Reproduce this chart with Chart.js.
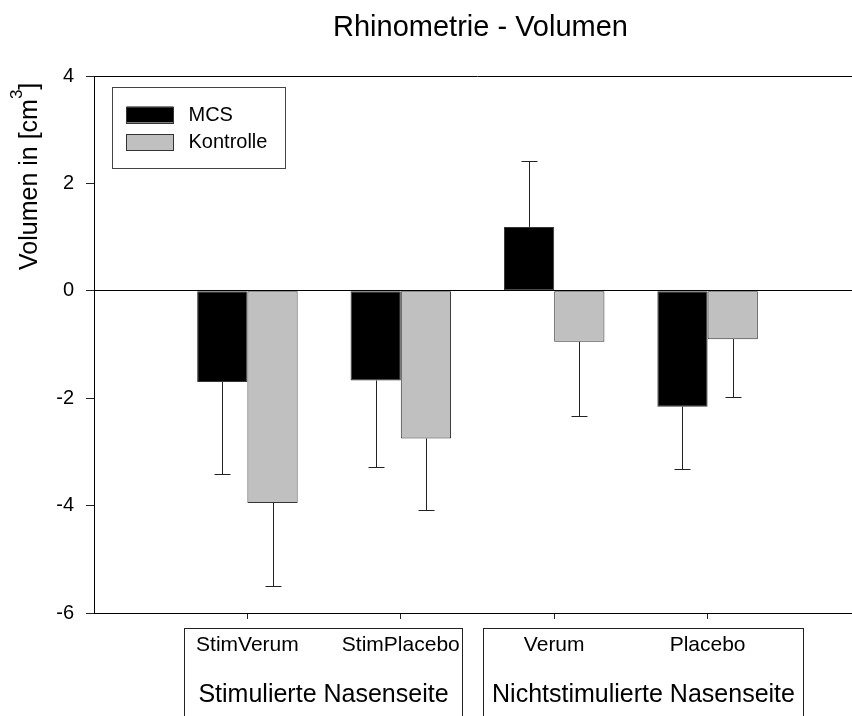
<!DOCTYPE html>
<html>
<head>
<meta charset="utf-8">
<title>Rhinometrie - Volumen</title>
<script src="https://cdn.jsdelivr.net/npm/chart.js@4.4.1/dist/chart.umd.min.js"></script>
<style>
  html, body { margin: 0; padding: 0; overflow: hidden; background: #fff; }
  #wrap { width: 880px; height: 716px; }
</style>
</head>
<body>
<div id="wrap"><canvas id="c" width="880" height="716"></canvas></div>
<script>
// Measurement groups and their labels
const categories = ['StimVerum', 'StimPlacebo', 'Verum', 'Placebo'];
const groupLabels = ['Stimulierte Nasenseite', 'Nichtstimulierte Nasenseite'];
const seriesNames = ['MCS', 'Kontrolle'];

// Mean change of nasal volume [cm³] and standard deviation
const mcsMeans = [-1.70, -1.67, 1.19, -2.16];
const mcsSD = [1.71, 1.62, 1.23, 1.16];
const kontrolleMeans = [-3.95, -2.75, -0.95, -0.90];
const kontrolleSD = [1.55, 1.33, 1.38, 1.08];

// Value axis ticks
const yTicks = [-6, -4, -2, 0, 2, 4];

const FONT = "'Liberation Sans', Arial, Helvetica, sans-serif";

// The x axis runs from 0 to 5, with the four categories sitting at 1..4
const pad = arr => [null, ...arr, null];
const axisLabels = ['', ...categories, ''];

// Top frame line of the plot
const framePlugin = {
  id: 'frame',
  afterDraw(chart) {
    const { ctx, chartArea: a } = chart;
    ctx.save();
    ctx.strokeStyle = '#000';
    ctx.lineWidth = 1;
    ctx.beginPath();
    ctx.moveTo(a.left, Math.round(a.top) + 0.5);
    ctx.lineTo(a.right, Math.round(a.top) + 0.5);
    ctx.stroke();
    ctx.restore();
  }
};

// One-sided error bars pointing away from zero
const errorBarPlugin = {
  id: 'errorBars',
  afterDatasetsDraw(chart) {
    const { ctx } = chart;
    const yScale = chart.scales.y;
    ctx.save();
    ctx.strokeStyle = '#222';
    ctx.lineWidth = 1;
    chart.data.datasets.forEach((ds, di) => {
      const meta = chart.getDatasetMeta(di);
      meta.data.forEach((bar, i) => {
        const v = ds.data[i];
        const e = ds.errors[i];
        if (v === null || e === null) return;
        const dir = v >= 0 ? 1 : -1;
        const x = Math.round(bar.x) + 0.5;
        const y1 = yScale.getPixelForValue(v);
        const y2 = Math.round(yScale.getPixelForValue(v + dir * e)) + 0.5;
        ctx.beginPath();
        ctx.moveTo(x, y1);
        ctx.lineTo(x, y2);
        ctx.moveTo(x - 8, y2);
        ctx.lineTo(x + 8, y2);
        ctx.stroke();
      });
    });
    ctx.restore();
  }
};

// Framed legend inside the plot area
const boxLegendPlugin = {
  id: 'boxLegend',
  afterDraw(chart) {
    const { ctx, chartArea: a } = chart;
    const left = Math.round(a.left + 18) + 0.5;
    const top = Math.round(a.top + 11) + 0.5;
    ctx.save();
    ctx.strokeStyle = '#444';
    ctx.lineWidth = 1;
    ctx.strokeRect(left, top, 173, 81);
    ctx.font = '20px ' + FONT;
    ctx.textBaseline = 'middle';
    ctx.textAlign = 'left';
    chart.data.datasets.forEach((ds, i) => {
      const sy = top + 19 + i * 27.5;
      ctx.fillStyle = ds.backgroundColor;
      ctx.fillRect(left + 14, sy, 47, 16);
      ctx.strokeStyle = '#333';
      ctx.strokeRect(left + 14, Math.round(sy) + 0.5, 47, 16);
      ctx.fillStyle = '#000';
      ctx.fillText(ds.label, left + 76, sy + 8.5);
    });
    ctx.restore();
  }
};

// Chart title, y axis title and the boxed group captions below the axis
const annotationsPlugin = {
  id: 'annotations',
  afterDraw(chart) {
    const { ctx, chartArea: a } = chart;
    const xs = chart.scales.x;
    ctx.save();
    ctx.fillStyle = '#000';

    // Title
    ctx.font = '29px ' + FONT;
    ctx.textAlign = 'center';
    ctx.textBaseline = 'alphabetic';
    ctx.fillText('Rhinometrie - Volumen', (a.left + a.right) / 2 + 3, 36);

    // Y axis title with superscript
    ctx.save();
    ctx.translate(a.left - 57, a.top + 194);
    ctx.rotate(-Math.PI / 2);
    ctx.textAlign = 'left';
    ctx.font = '25px ' + FONT;
    const part1 = 'Volumen in [cm';
    ctx.fillText(part1, 0, 0);
    const w1 = ctx.measureText(part1).width;
    ctx.font = '17px ' + FONT;
    ctx.fillText('3', w1, -15);
    const w3 = ctx.measureText('3').width;
    ctx.font = '25px ' + FONT;
    ctx.fillText(']', w1 + w3, 0);
    ctx.restore();

    // Group boxes spanning their categories
    const spans = [[0.584, 2.399], [2.539, 4.625]];
    const boxTop = Math.round(a.bottom + 15) + 0.5;
    ctx.strokeStyle = '#222';
    ctx.lineWidth = 1;
    ctx.font = '25px ' + FONT;
    ctx.textAlign = 'center';
    groupLabels.forEach((g, i) => {
      const x1 = Math.round(xs.getPixelForValue(spans[i][0])) + 0.5;
      const x2 = Math.round(xs.getPixelForValue(spans[i][1])) + 0.5;
      ctx.strokeRect(x1, boxTop, x2 - x1, 140);
      ctx.fillText(g, (x1 + x2) / 2, a.bottom + 89);
    });
    ctx.restore();
  }
};

new Chart(document.getElementById('c'), {
  type: 'bar',
  data: {
    labels: axisLabels,
    datasets: [
      {
        label: seriesNames[0],
        data: pad(mcsMeans),
        errors: pad(mcsSD),
        backgroundColor: '#000000',
        borderColor: '#333333',
        borderWidth: 1,
        borderSkipped: false
      },
      {
        label: seriesNames[1],
        data: pad(kontrolleMeans),
        errors: pad(kontrolleSD),
        backgroundColor: '#c0c0c0',
        borderColor: '#333333',
        borderWidth: 1,
        borderSkipped: false
      }
    ]
  },
  options: {
    responsive: false,
    animation: false,
    events: [],
    barPercentage: 1,
    categoryPercentage: 0.655,
    layout: { padding: { top: 76, right: 19, bottom: 0, left: 0 } },
    plugins: {
      legend: { display: false },
      title: { display: false },
      tooltip: { enabled: false }
    },
    scales: {
      x: {
        offset: false,
        grid: {
          offset: false,
          drawOnChartArea: false,
          drawTicks: true,
          tickLength: 6,
          tickColor: ctx => (ctx.index === 0 || ctx.index === axisLabels.length - 1) ? 'rgba(0,0,0,0)' : '#222'
        },
        border: { display: true, color: '#000', width: 1 },
        ticks: {
          autoSkip: false,
          maxRotation: 0,
          padding: 14,
          color: '#000',
          font: { family: FONT, size: 21 }
        },
        afterFit(scale) { scale.height = 103; }
      },
      y: {
        min: -6,
        max: 4,
        afterBuildTicks(scale) { scale.ticks = yTicks.map(v => ({ value: v })); },
        grid: {
          drawOnChartArea: true,
          drawTicks: true,
          tickLength: 8,
          color: ctx => (ctx.tick && ctx.tick.value === 0) ? '#000' : 'rgba(0,0,0,0)',
          tickColor: '#222'
        },
        border: { display: true, color: '#000', width: 1 },
        ticks: {
          padding: 12,
          color: '#000',
          font: { family: FONT, size: 20 }
        },
        afterFit(scale) { scale.width = 94; }
      }
    }
  },
  plugins: [framePlugin, errorBarPlugin, boxLegendPlugin, annotationsPlugin]
});
</script>
</body>
</html>
